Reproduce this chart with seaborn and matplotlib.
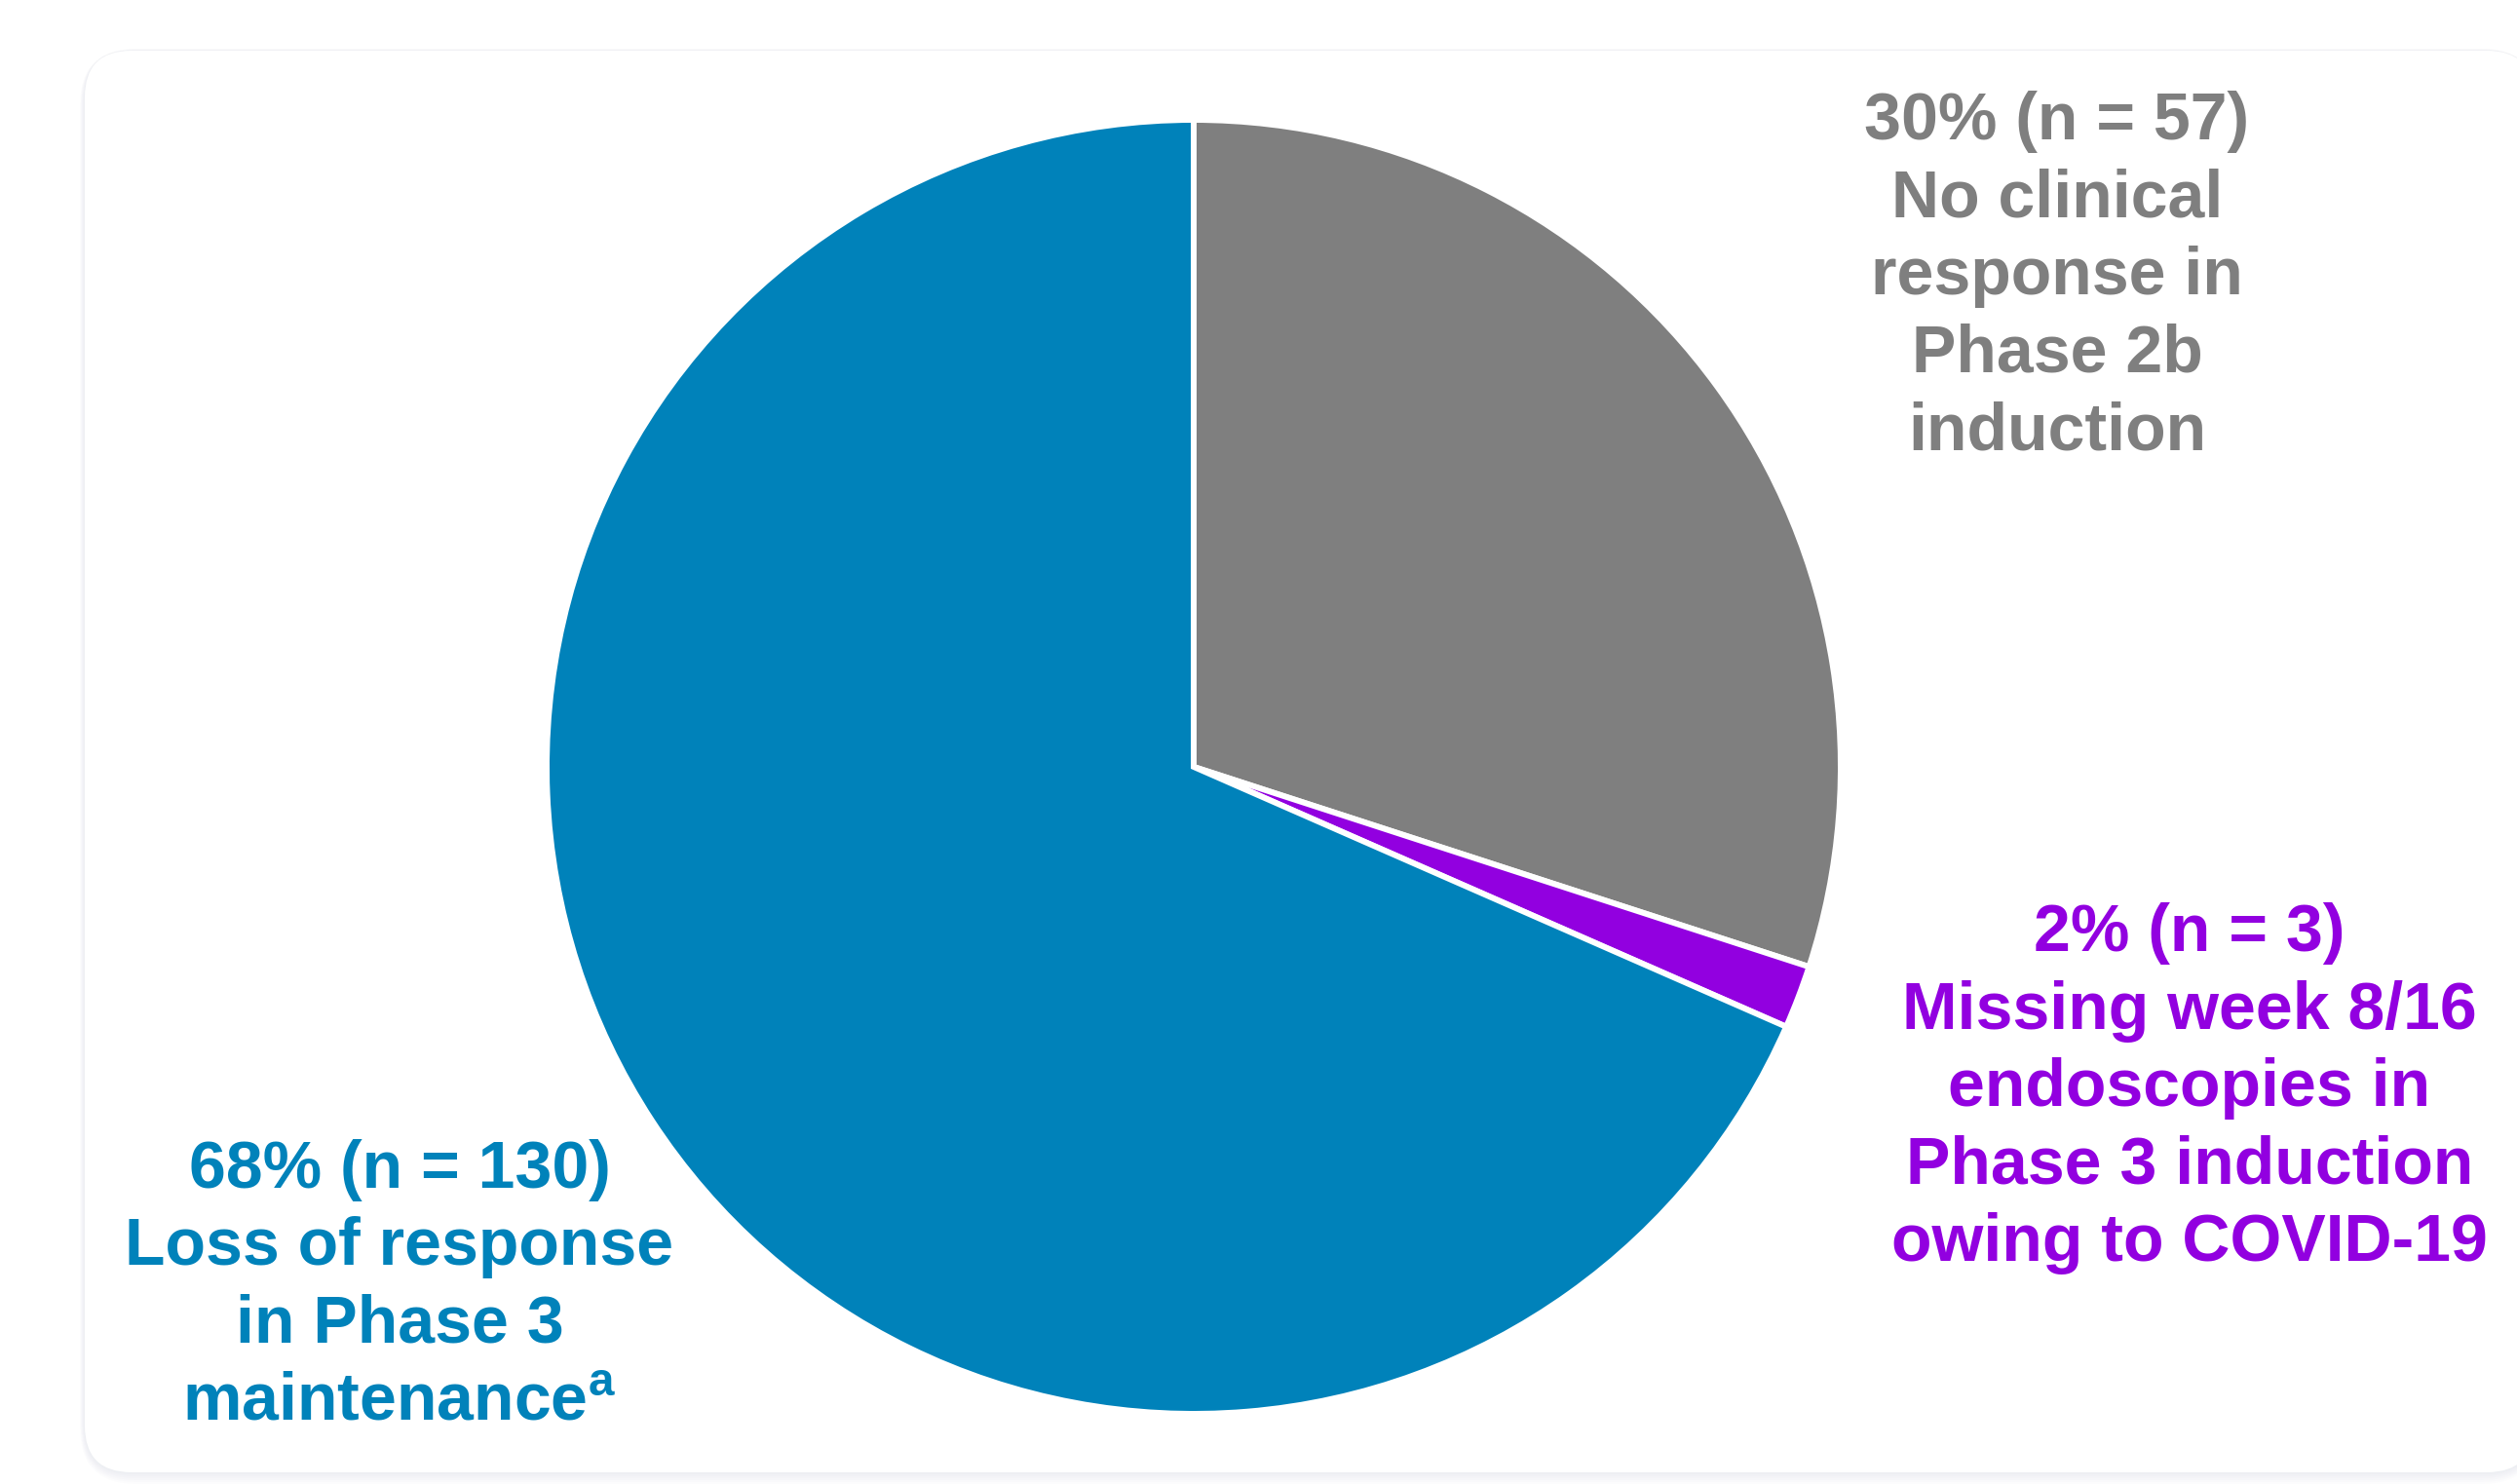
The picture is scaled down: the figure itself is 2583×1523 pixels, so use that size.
import matplotlib
matplotlib.use("Agg")
import matplotlib.pyplot as plt
import seaborn as sns
from matplotlib.patches import FancyBboxPatch
from matplotlib.transforms import IdentityTransform

# ---- data ----
categories = ["No clinical response in Phase 2b induction",
              "Missing week 8/16 endoscopies in Phase 3 induction owing to COVID-19",
              "Loss of response in Phase 3 maintenance"]
counts = [57, 3, 130]
percents = [30, 2, 68]
label_texts = [
    "{p}% (n = {n})\nNo clinical\nresponse in\nPhase 2b\ninduction",
    "{p}% (n = {n})\nMissing week 8/16\nendoscopies in\nPhase 3 induction\nowing to COVID-19",
    "{p}% (n = {n})\nLoss of response\nin Phase 3\nmaintenance$^{{\\rm a}}$",
]
colors = ["#7F7F7F", "#9200E0", "#0082BA"]

# ---- style ----
sns.set_theme(style="white")
plt.rcParams['font.family'] = ['Liberation Sans', 'DejaVu Sans']
plt.rcParams['mathtext.fontset'] = 'custom'
plt.rcParams['mathtext.rm'] = 'Liberation Sans:bold'
plt.rcParams['mathtext.bf'] = 'Liberation Sans:bold'

W, H = 2583, 1523
fig = plt.figure(figsize=(W / 100, H / 100), dpi=100)
fig.patch.set_facecolor("white")

# card with soft shadow (pixel coords, y from bottom)
cx0, cy_top, cx1, cy_bot = 87, 52, 2600, 1511
rad = 48
for i in range(6):
    g = 10 - i * 1.7
    fig.patches.append(FancyBboxPatch((cx0 - g * 0.5, H - cy_bot - g * 1.2),
                                      (cx1 - cx0) + g * 1.0, (cy_bot - cy_top) + g * 1.4,
                                      boxstyle=f"round,pad=0,rounding_size={rad + g}",
                                      transform=IdentityTransform(), facecolor="#9aa0b4",
                                      edgecolor="none", alpha=0.025, zorder=0))
fig.patches.append(FancyBboxPatch((cx0, H - cy_bot), cx1 - cx0, cy_bot - cy_top,
                                  boxstyle=f"round,pad=0,rounding_size={rad}",
                                  transform=IdentityTransform(), facecolor="white",
                                  edgecolor="none", zorder=1))

# pie axes
pcx, pcy, r = 1225, 787, 664
ax = fig.add_axes([(pcx - r) / W, (H - pcy - r) / H, 2 * r / W, 2 * r / H])
ax.set_zorder(3)
ax.set_facecolor("none")
ax.pie(counts, colors=colors, startangle=90, counterclock=False,
       wedgeprops=dict(edgecolor="white", linewidth=4.3, joinstyle="miter"))
ax.set_xlim(-1.0, 1.0)
ax.set_ylim(-1.0, 1.0)
ax.set_aspect("equal")
ax.axis("off")

# labels
label_pos = [(2111, 284), (2247, 1117), (410, 1320)]
for (x, y), txt, p, n, c in zip(label_pos, label_texts, percents, counts, colors):
    fig.text(x / W, 1 - y / H, txt.format(p=p, n=n), color=c, fontsize=49,
             fontweight="bold", ha="center", va="center", multialignment="center",
             linespacing=1.31, zorder=5)

fig.savefig("out.png", dpi=100, facecolor="white")
